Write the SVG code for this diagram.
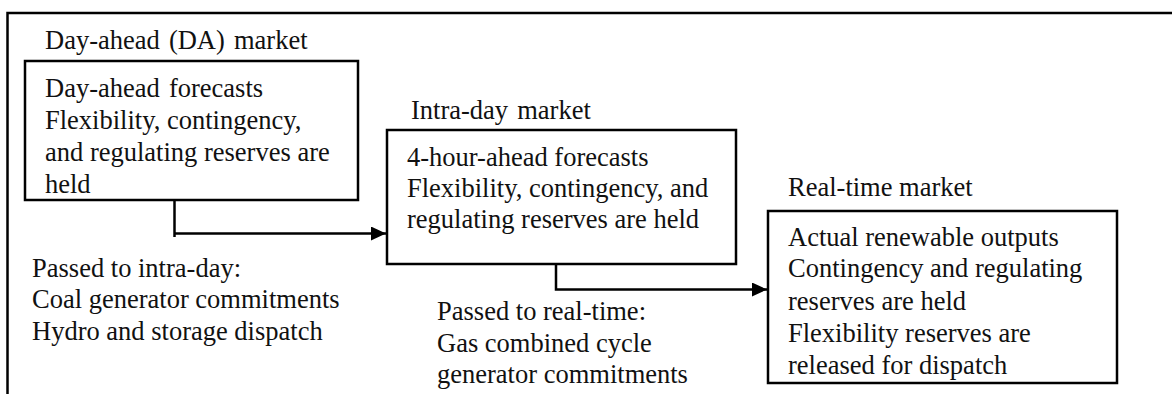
<svg xmlns="http://www.w3.org/2000/svg" width="1172" height="394" viewBox="0 0 1172 394">
<defs>
<style>
text{font-family:'Liberation Serif','Times New Roman','DejaVu Serif',serif;font-size:26.5px;fill:#111}
.ws{word-spacing:2.5px}
.box{fill:#fff;stroke:#000;stroke-width:2.5}
.conn{fill:none;stroke:#000;stroke-width:2.5}
</style>
<marker id="arr" markerUnits="userSpaceOnUse" markerWidth="16" markerHeight="14" refX="15" refY="7" orient="auto">
<path d="M0,0 L15,7 L0,14 Z" fill="#000"/>
</marker>
</defs>
<rect width="1172" height="394" fill="#fff"/>
<path d="M7.5,400 V13 H1180" fill="none" stroke="#000" stroke-width="2.5"/>
<g font-family="'Liberation Serif', 'DejaVu Serif', serif">
<g id="da">
<text x="45" y="49" class="ws">Day-ahead (DA) market</text>
<rect class="box" x="25" y="61" width="333" height="139"/>
<text x="45" y="97" class="ws">Day-ahead forecasts</text>
<text x="45" y="129">Flexibility, contingency,</text>
<text x="45" y="161">and regulating reserves are</text>
<text x="45" y="193">held</text>
</g>
<g id="intraday">
<text x="411" y="119" class="ws">Intra-day market</text>
<rect class="box" x="387" y="130" width="349" height="134"/>
<text x="407" y="166">4-hour-ahead forecasts</text>
<text x="407" y="197">Flexibility, contingency, and</text>
<text x="407" y="228">regulating reserves are held</text>
</g>
<g id="realtime">
<text x="788" y="196">Real-time market</text>
<rect class="box" x="768" y="211" width="349" height="172"/>
<text x="788" y="246">Actual renewable outputs</text>
<text x="788" y="277">Contingency and regulating</text>
<text x="788" y="310">reserves are held</text>
<text x="788" y="342">Flexibility reserves are</text>
<text x="788" y="374">released for dispatch</text>
</g>
<g id="passed-intraday">
<text x="32" y="277">Passed to intra-day:</text>
<text x="32" y="308">Coal generator commitments</text>
<text x="32" y="340">Hydro and storage dispatch</text>
</g>
<g id="passed-realtime">
<text x="437" y="320">Passed to real-time:</text>
<text x="437" y="352">Gas combined cycle</text>
<text x="437" y="383">generator commitments</text>
</g>
</g>
<g id="connectors">
<path class="conn" d="M174.5,200 V237"/>
<path class="conn" d="M174.5,233.5 H386" marker-end="url(#arr)"/>
<path class="conn" d="M556,264 V289.5 H767" marker-end="url(#arr)"/>
</g>
</svg>
